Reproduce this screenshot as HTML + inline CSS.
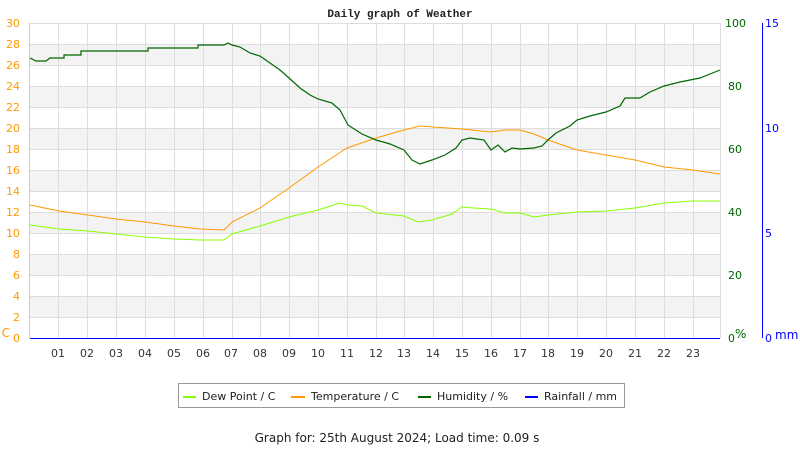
<!DOCTYPE html><html><head><style>body{margin:0;background:#fff}</style></head><body>
<svg width="800" height="450" xmlns="http://www.w3.org/2000/svg" font-family="DejaVu Sans, sans-serif" font-size="11">
<rect width="800" height="450" fill="#fff"/>
<text x="400" y="17" text-anchor="middle" font-family="Liberation Mono, monospace" font-weight="bold" font-size="11" fill="#222">Daily graph of Weather</text>
<g fill="#f3f3f3">
<rect x="30" y="44" width="690" height="21"/><rect x="30" y="86" width="690" height="21"/><rect x="30" y="128" width="690" height="21"/><rect x="30" y="170" width="690" height="21"/><rect x="30" y="212" width="690" height="21"/><rect x="30" y="254" width="690" height="21"/><rect x="30" y="296" width="690" height="21"/>
</g>
<g stroke="#ddd" stroke-width="1">
<path d="M30 23.5H720M30 44.5H720M30 65.5H720M30 86.5H720M30 107.5H720M30 128.5H720M30 149.5H720M30 170.5H720M30 191.5H720M30 212.5H720M30 233.5H720M30 254.5H720M30 275.5H720M30 296.5H720M30 317.5H720"/>
<path d="M58.5 23V338M87.5 23V338M116.5 23V338M145.5 23V338M174.5 23V338M203.5 23V338M232.5 23V338M260.5 23V338M289.5 23V338M318.5 23V338M347.5 23V338M376.5 23V338M404.5 23V338M433.5 23V338M462.5 23V338M491.5 23V338M520.5 23V338M548.5 23V338M577.5 23V338M606.5 23V338M635.5 23V338M664.5 23V338M693.5 23V338M720.5 23V338"/>
</g>
<line x1="29.5" y1="23" x2="29.5" y2="338" stroke="#ccc"/>
<line x1="30" y1="338.5" x2="720" y2="338.5" stroke="#00f"/>
<line x1="762.5" y1="23" x2="762.5" y2="338" stroke="#00f"/>
<g fill="#f90" font-size="11" text-anchor="end">
<text x="20" y="27">30</text><text x="20" y="48">28</text><text x="20" y="69">26</text><text x="20" y="90">24</text><text x="20" y="111">22</text><text x="20" y="132">20</text><text x="20" y="153">18</text><text x="20" y="174">16</text><text x="20" y="195">14</text><text x="20" y="216">12</text><text x="20" y="237">10</text><text x="20" y="258">8</text><text x="20" y="279">6</text><text x="20" y="300">4</text><text x="20" y="321">2</text><text x="20" y="342">0</text>
<text x="10" y="337" font-size="12">C</text>
</g>
<g fill="#060" font-size="11">
<text x="725" y="27">100</text><text x="728" y="90">80</text><text x="728" y="153">60</text><text x="728" y="216">40</text><text x="728" y="279">20</text><text x="728" y="342">0</text><text x="735" y="338" font-size="12">%</text>
</g>
<g fill="#00f" font-size="11">
<text x="765" y="27">15</text><text x="765" y="132">10</text><text x="765" y="237">5</text><text x="765" y="342">0</text><text x="775" y="339" font-size="12">mm</text>
</g>
<g fill="#333" font-size="11" text-anchor="middle">
<text x="58" y="357">01</text><text x="87" y="357">02</text><text x="116" y="357">03</text><text x="145" y="357">04</text><text x="174" y="357">05</text><text x="203" y="357">06</text><text x="231" y="357">07</text><text x="260" y="357">08</text><text x="289" y="357">09</text><text x="318" y="357">10</text><text x="347" y="357">11</text><text x="376" y="357">12</text><text x="404" y="357">13</text><text x="433" y="357">14</text><text x="462" y="357">15</text><text x="491" y="357">16</text><text x="520" y="357">17</text><text x="548" y="357">18</text><text x="577" y="357">19</text><text x="606" y="357">20</text><text x="635" y="357">21</text><text x="664" y="357">22</text><text x="693" y="357">23</text>
</g>
<polyline fill="none" stroke="#8f0" stroke-width="1" points="30,225 59,229 88,231 116,234 145,237 174,239 200,240 224,240 232,234 260,226 289,217 318,210 340,203 347,205 362,206 376,213 404,216 418,222 432,220 452,214 462,207 474,208 491,209 505,213 520,213 534,217 548,215 577,212 606,211 635,208 664,203 693,201 720,201"/>
<polyline fill="none" stroke="#f90" stroke-width="1" points="30,205 59,211 88,215 116,219 145,222 174,226 200,229 224,230 232,222 260,208 289,188 318,167 347,148 376,138 404,130 420,126 433,127 462,129 491,132 505,130 520,130 534,134 548,140 577,150 606,155 635,160 664,167 693,170 720,174"/>
<polyline fill="none" stroke="#060" stroke-width="1.2" points="30,58 36,61 46,61 50,58 64,58 64,55 81,55 81,51 148,51 148,48 198,48 198,45 224,45 228,43 232,45 240,47 250,53 260,56 270,63 280,70 289,78 300,88 310,95 318,99 332,103 340,110 348,125 362,134 376,140 390,144 404,150 412,160 420,164 432,160 445,155 456,148 462,140 470,138 484,140 491,150 498,145 505,152 512,148 520,149 534,148 542,146 548,140 556,133 570,126 577,120 590,116 606,112 620,106 625,98 640,98 650,92 664,86 680,82 700,78 715,72 720,70"/>
<rect x="178.5" y="383.5" width="446" height="24" fill="#fff" stroke="#999"/>
<g font-size="11" fill="#222">
<line x1="183" y1="397" x2="196" y2="397" stroke="#8f0" stroke-width="2"/><text x="202" y="400">Dew Point / C</text>
<line x1="291" y1="397" x2="305" y2="397" stroke="#f90" stroke-width="2"/><text x="311" y="400">Temperature / C</text>
<line x1="418" y1="397" x2="431" y2="397" stroke="#060" stroke-width="2"/><text x="437" y="400">Humidity / %</text>
<line x1="525" y1="397" x2="538" y2="397" stroke="#00f" stroke-width="2"/><text x="544" y="400">Rainfall / mm</text>
</g>
<text x="397" y="442" text-anchor="middle" font-size="12" fill="#222">Graph for: 25th August 2024; Load time: 0.09 s</text>
</svg>
</body></html>
